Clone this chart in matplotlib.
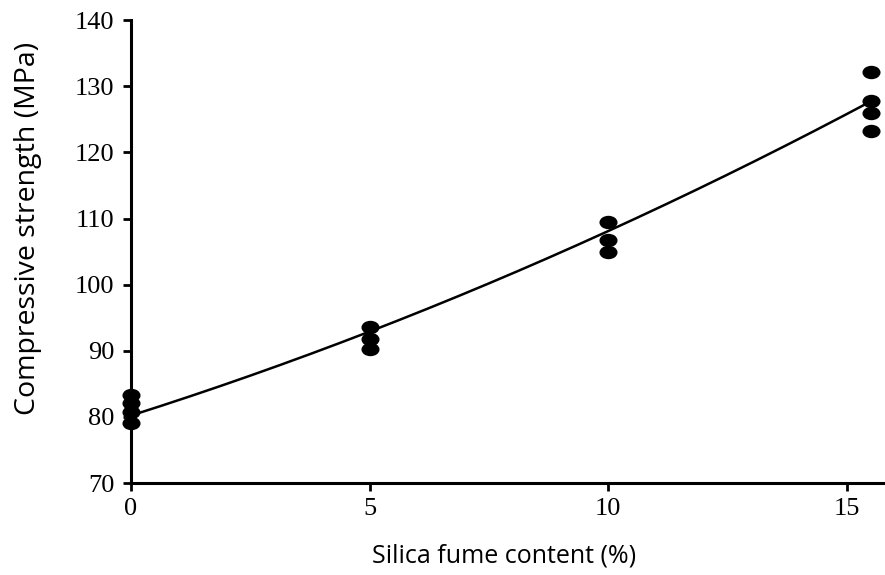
import numpy as np
import matplotlib
matplotlib.use('Agg')
import matplotlib.pyplot as plt
from matplotlib.path import Path

silica_x = [0, 0, 0, 0, 5, 5, 5, 10, 10, 10, 15.5, 15.5, 15.5, 15.5]
strength = [83.3, 82.1, 80.8, 79.1, 93.6, 91.8, 90.3, 109.4, 106.7, 104.9, 132.2, 127.8, 125.9, 123.2]

# quadratic trend curve (a*x^2 + b*x + c)
fit_coef = [0.05, 2.29, 80.2]

x_ticks = [0, 5, 10, 15]
y_ticks = [70, 80, 90, 100, 110, 120, 130, 140]

# flattened ellipse marker
circ = Path.unit_circle()
ellipse = Path(circ.vertices * np.array([1.0, 0.72]), circ.codes)

fig = plt.figure(figsize=(8.85, 5.75), dpi=100, facecolor='white')
ax = fig.add_axes([0.148, 0.16, 0.852, 0.805])

xs = np.linspace(0, 15.5, 200)
ax.plot(xs, np.polyval(fit_coef, xs), color='black', lw=1.8, zorder=2)
ax.plot(silica_x, strength, linestyle='none', marker=ellipse, markersize=12,
        color='black', zorder=3, clip_on=False)

ax.set_xlim(0, 15.8)
ax.set_ylim(70, 140)
ax.set_xticks(x_ticks)
ax.set_yticks(y_ticks)

for side in ['top', 'right']:
    ax.spines[side].set_visible(False)
for side in ['left', 'bottom']:
    ax.spines[side].set_linewidth(2.2)

ax.tick_params(direction='out', length=6, width=2)
ax.tick_params(axis='y', pad=6)
ax.tick_params(axis='x', pad=5)
for lbl in ax.get_xticklabels() + ax.get_yticklabels():
    lbl.set_fontfamily('Liberation Serif')
    lbl.set_fontsize(19)

ax.set_xlabel('Silica fume content (%)', fontsize=18, family='Open Sans')
ax.set_ylabel('Compressive strength (MPa)', fontsize=20.5, family='Open Sans')
ax.xaxis.label.set_va('center')
ax.yaxis.label.set_va('center')
ax.xaxis.set_label_coords(0.495, -0.158)
ax.yaxis.set_label_coords(-0.136, 0.551)

fig.savefig('out.png', dpi=100, facecolor='white')
